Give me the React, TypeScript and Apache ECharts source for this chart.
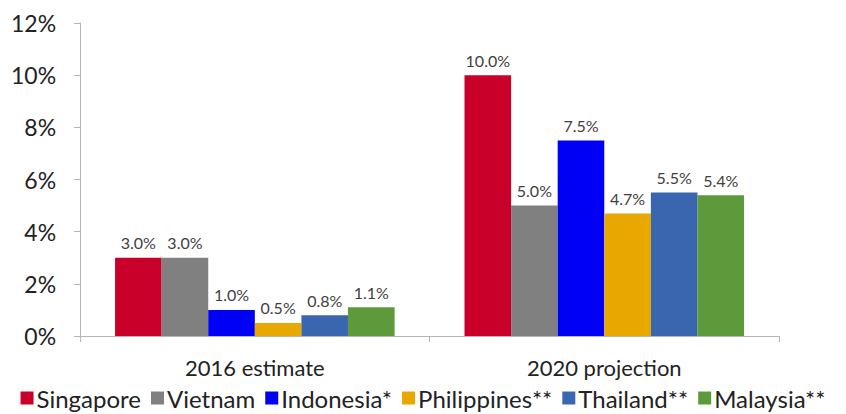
import React, { useEffect, useRef } from "react";
import * as echarts from "echarts";

const categories = ["2016 estimate", "2020 projection"];
const seriesNames = ["Singapore", "Vietnam", "Indonesia*", "Philippines**", "Thailand**", "Malaysia**"];
const singapore = [3.0, 10.0];
const vietnam = [3.0, 5.0];
const indonesia = [1.0, 7.5];
const philippines = [0.5, 4.7];
const thailand = [0.8, 5.5];
const malaysia = [1.1, 5.4];
const colors = ["#C8002A", "#808080", "#0000F5", "#E8A800", "#3A66B0", "#5C9A3C"];

export default function App() {
  const ref = useRef<HTMLDivElement>(null);
  useEffect(() => {
    if (!ref.current) return;
    const chart = echarts.init(ref.current, null, { renderer: "svg" });
    const values = [singapore, vietnam, indonesia, philippines, thailand, malaysia];
    const font = "Lato, 'Open Sans', sans-serif";
    chart.setOption({
      animation: false,
      textStyle: { fontFamily: font },
      grid: { left: 72, right: 59, top: 15, bottom: 78 },
      legend: {
        top: 378,
        left: "center",
        padding: 0,
        itemWidth: 13,
        itemHeight: 13,
        itemGap: 10,
        icon: "rect",
        textStyle: { fontSize: 24, color: "#222", fontFamily: font, padding: [0, 0, 0, -2] },
        data: seriesNames,
      },
      xAxis: {
        type: "category",
        data: categories,
        axisLine: { lineStyle: { color: "#b5b5b5" } },
        axisTick: { show: true, length: 6, lineStyle: { color: "#b5b5b5" } },
        axisLabel: { fontSize: 22, color: "#222", margin: 20, fontFamily: font },
      },
      yAxis: {
        type: "value",
        min: 0,
        max: 12,
        interval: 2,
        axisLine: { show: true, lineStyle: { color: "#b5b5b5" } },
        axisTick: { show: true, length: 6, lineStyle: { color: "#b5b5b5" } },
        splitLine: { show: false },
        axisLabel: { fontSize: 23, color: "#222", margin: 24, formatter: "{value}%", fontFamily: font },
      },
      series: seriesNames.map((name, i) => ({
        name,
        type: "bar",
        data: values[i],
        barGap: "0%",
        barCategoryGap: "20%",
        itemStyle: { color: colors[i] },
        label: {
          show: true,
          position: "top",
          distance: 7,
          fontSize: 16,
          color: "#404040",
          fontFamily: font,
          formatter: (p: any) => p.value.toFixed(1) + "%",
        },
      })),
    });
    return () => chart.dispose();
  }, []);
  return <div ref={ref} style={{ width: 830, height: 406 }} />;
}
